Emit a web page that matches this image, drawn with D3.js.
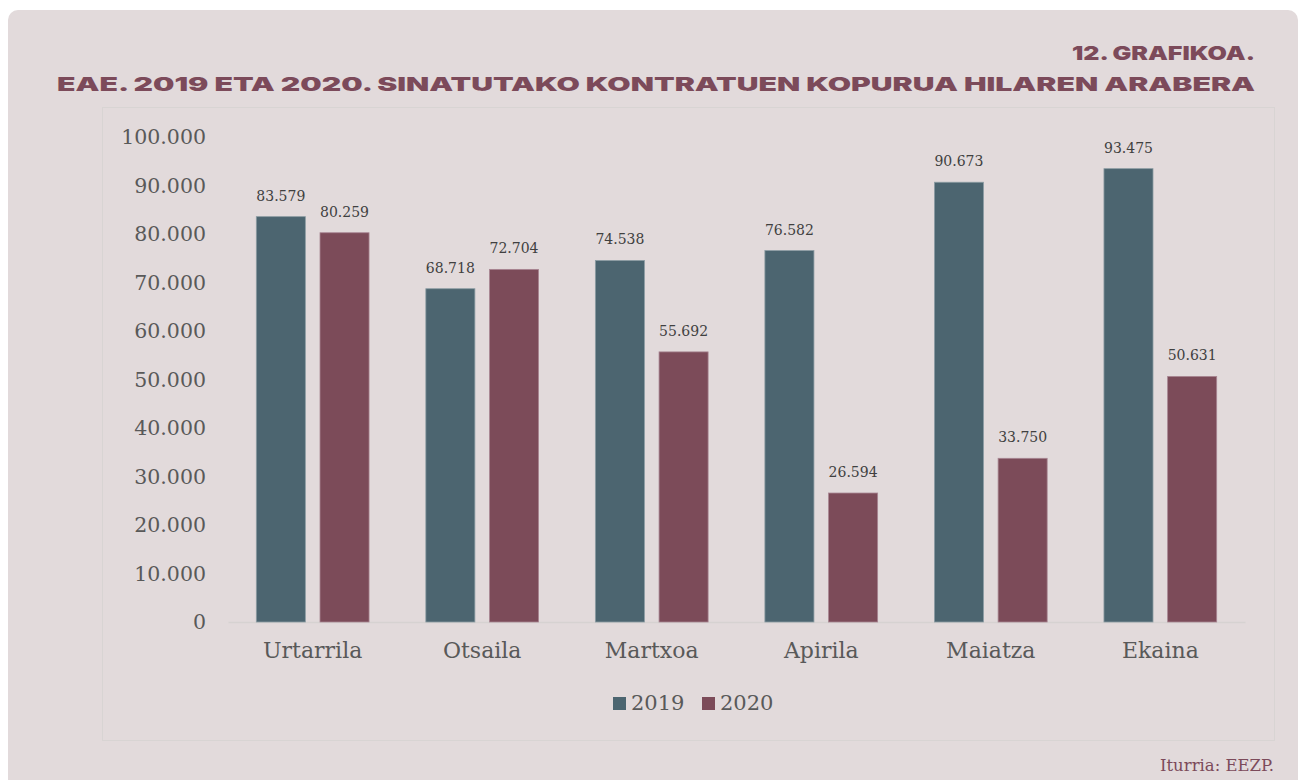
<!DOCTYPE html>
<html>
<head>
<meta charset="utf-8">
<script src="https://cdn.jsdelivr.net/npm/d3@7"></script>
<style>
  body { margin: 0; background: #ffffff; }
  svg { display: block; }
</style>
</head>
<body>
<script>
// datuak
var hilabeteak = ["Urtarrila", "Otsaila", "Martxoa", "Apirila", "Maiatza", "Ekaina"];
var urteak = ["2019", "2020"];
var balio2019 = [83579, 68718, 74538, 76582, 90673, 93475];
var balio2020 = [80259, 72704, 55692, 26594, 33750, 50631];
var yTicks = [0, 10000, 20000, 30000, 40000, 50000, 60000, 70000, 80000, 90000, 100000];
var koloreak = ["#4c6570", "#7c4b59"];

var width = 1302, height = 780;
var serif = "'DejaVu Serif', 'Liberation Serif', serif";
var fmt = function(v) { return d3.format(",")(v).replace(/,/g, "."); };

var svg = d3.select("body").append("svg")
  .attr("width", width)
  .attr("height", height);

// panela
svg.append("rect")
  .attr("x", 8).attr("y", 10)
  .attr("width", 1290).attr("height", 790)
  .attr("rx", 10)
  .attr("fill", "#e2dadb");

// barneko koadroa
svg.append("rect")
  .attr("x", 102.5).attr("y", 107.5)
  .attr("width", 1172).attr("height", 633)
  .attr("fill", "none")
  .attr("stroke", "#d8d4d3");

// izenburuak
svg.append("text")
  .attr("x", 1255).attr("y", 60)
  .attr("text-anchor", "end")
  .attr("textLength", 183)
  .attr("lengthAdjust", "spacingAndGlyphs")
  .attr("font-family", "Inter, 'DejaVu Sans', sans-serif")
  .attr("font-weight", 900)
  .attr("font-size", 19)
  .attr("fill", "#7c4a5a")
  .text("12. GRAFIKOA.");

svg.append("text")
  .attr("x", 57).attr("y", 91)
  .attr("textLength", 1198)
  .attr("lengthAdjust", "spacingAndGlyphs")
  .attr("font-family", "Inter, 'DejaVu Sans', sans-serif")
  .attr("font-weight", 900)
  .attr("font-size", 19)
  .attr("fill", "#7c4a5a")
  .text("EAE. 2019 ETA 2020. SINATUTAKO KONTRATUEN KOPURUA HILAREN ARABERA");

// eskalak
var x0 = d3.scaleBand().domain(hilabeteak).range([228, 1245]).paddingInner(0.335).paddingOuter(0.167);
var x1 = d3.scaleBand().domain(urteak).range([0, x0.bandwidth()]).paddingInner(0.23);
var y = d3.scaleLinear().domain([0, 100000]).range([622, 137]);

// y ardatza
var yAxis = d3.axisLeft(y).tickValues(yTicks).tickSize(0).tickPadding(0).tickFormat(fmt);
var gy = svg.append("g").attr("transform", "translate(206,0)").call(yAxis);
gy.select(".domain").remove();
gy.selectAll("text")
  .attr("font-family", serif)
  .attr("font-size", 20.5)
  .attr("fill", "#595959");

// x ardatza
var xAxis = d3.axisBottom(x0).tickSize(0).tickPadding(20);
var gx = svg.append("g").attr("transform", "translate(0,622)").call(xAxis);
gx.select(".domain").attr("stroke", "#d6d2d1").attr("stroke-width", 1.5);
gx.selectAll("text")
  .attr("font-family", serif)
  .attr("font-size", 22)
  .attr("fill", "#595959");

// barrak
var datuak = hilabeteak.map(function(h, i) {
  return { hila: h, balioak: [{ urtea: "2019", v: balio2019[i] }, { urtea: "2020", v: balio2020[i] }] };
});

var taldeak = svg.selectAll("g.taldea")
  .data(datuak)
  .enter().append("g")
  .attr("class", "taldea")
  .attr("transform", function(d) { return "translate(" + x0(d.hila) + ",0)"; });

taldeak.selectAll("rect")
  .data(function(d) { return d.balioak; })
  .enter().append("rect")
  .attr("x", function(d) { return x1(d.urtea); })
  .attr("y", function(d) { return y(d.v); })
  .attr("width", x1.bandwidth())
  .attr("height", function(d) { return y(0) - y(d.v); })
  .attr("fill", function(d, i) { return koloreak[i]; })
  .attr("stroke", function(d, i) { return i == 0 ? "#8c9ca3" : "#a88592"; })
  .attr("stroke-width", 0.8);

taldeak.selectAll("text")
  .data(function(d) { return d.balioak; })
  .enter().append("text")
  .attr("x", function(d) { return x1(d.urtea) + x1.bandwidth() / 2; })
  .attr("y", function(d) { return y(d.v) - 16; })
  .attr("text-anchor", "middle")
  .attr("font-family", serif)
  .attr("font-size", 14)
  .attr("fill", "#404040")
  .text(function(d) { return fmt(d.v); });

// legenda
var legPos = [613, 702];
var leg = svg.selectAll("g.leg")
  .data(urteak)
  .enter().append("g")
  .attr("class", "leg")
  .attr("transform", function(d, i) { return "translate(" + legPos[i] + ",697)"; });
leg.append("rect")
  .attr("width", 13).attr("height", 13)
  .attr("fill", function(d, i) { return koloreak[i]; });
leg.append("text")
  .attr("x", 18).attr("y", 13)
  .attr("font-family", serif)
  .attr("font-size", 21)
  .attr("fill", "#595959")
  .text(function(d) { return d; });

// iturria
svg.append("text")
  .attr("x", 1274).attr("y", 771)
  .attr("text-anchor", "end")
  .attr("font-family", serif)
  .attr("font-size", 16.5)
  .attr("fill", "#7c4a5a")
  .text("Iturria: EEZP.");
</script>
</body>
</html>
